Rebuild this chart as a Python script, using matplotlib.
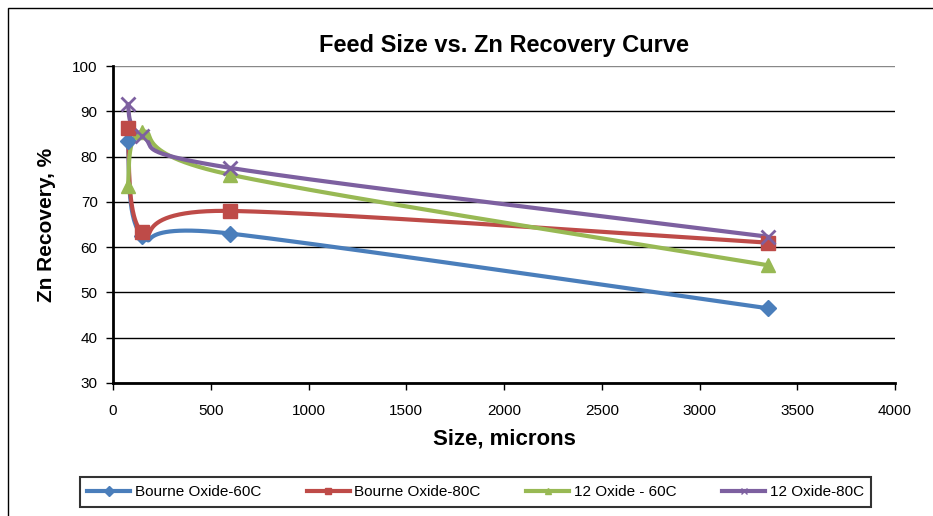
import numpy as np
import matplotlib
matplotlib.use('Agg')
import matplotlib.pyplot as plt
from matplotlib.patches import Rectangle

plt.rcParams['font.family'] = ['Liberation Sans', 'DejaVu Sans']

# feed sizes (microns)
sizes = [75, 150, 600, 3350]

bourne_60 = [83.5, 62.5, 63.0, 46.5]
bourne_80 = [86.3, 63.3, 68.0, 61.0]
oxide12_60 = [73.5, 85.5, 76.0, 56.0]
oxide12_80 = [91.5, 84.5, 77.5, 62.3]

labels = ['Bourne Oxide-60C', 'Bourne Oxide-80C', '12 Oxide - 60C', '12 Oxide-80C']
colors = ['#4a7ebb', '#be4b48', '#98b954', '#7d60a0']
markers = ['D', 's', '^', 'x']
msizes = [8, 10, 10, 10]

x_ticks = [0, 500, 1000, 1500, 2000, 2500, 3000, 3500, 4000]
y_ticks = [30, 40, 50, 60, 70, 80, 90, 100]

W, H = 933, 516
ax_l, ax_r, ax_t, ax_b = 113, 895, 66, 383


def smooth(xs, ys, n=60):
    """Excel-like smoothed line (bezier through points, computed in pixel space)"""
    sx = (ax_r - ax_l) / 4000.0
    sy = (ax_b - ax_t) / 70.0
    p = np.column_stack([np.array(xs) * sx, np.array(ys) * sy])
    pts = [p[0]] + list(p) + [p[-1]]
    out = []
    t = np.linspace(0, 1, n)[:, None]
    for i in range(1, len(pts) - 2):
        p0, p1, p2, p3 = pts[i - 1], pts[i], pts[i + 1], pts[i + 2]
        c1 = p1 + (p2 - p0) / 6.0
        c2 = p2 - (p3 - p1) / 6.0
        seg = ((1 - t) ** 3) * p1 + 3 * ((1 - t) ** 2) * t * c1 + 3 * (1 - t) * t ** 2 * c2 + t ** 3 * p2
        out.append(seg)
    out = np.vstack(out)
    return out[:, 0] / sx, out[:, 1] / sy


fig = plt.figure(figsize=(W / 100, H / 100), dpi=100)
ax = fig.add_axes([ax_l / W, 1 - ax_b / H, (ax_r - ax_l) / W, (ax_b - ax_t) / H])

fig.patches.append(Rectangle((8 / W, -0.1), 1.1, 1 - 8 / H + 0.1, transform=fig.transFigure,
                             fill=False, edgecolor='black', linewidth=1))

series = [bourne_60, bourne_80, oxide12_60, oxide12_80]
for ys, lab, c, m, ms in zip(series, labels, colors, markers, msizes):
    sx_, sy_ = smooth(sizes, ys)
    ax.plot(sx_, sy_, color=c, linewidth=3, solid_capstyle='round', zorder=3)
    ax.plot(sizes, ys, linestyle='none', marker=m, markersize=ms, color=c,
            markeredgewidth=2 if m == 'x' else 1, zorder=4)
    ax.plot([], [], color=c, linewidth=3, marker=m, markersize=5, label=lab)

ax.set_xlim(0, 4000)
ax.set_ylim(30, 100)
ax.set_xticks(x_ticks)
ax.set_yticks(y_ticks)
ax.tick_params(labelsize=11, direction='out', length=5, width=1, pad=6)
ax.tick_params(axis='x', pad=10)
ax.grid(axis='y', color='black', linewidth=1)
ax.get_ygridlines()[-1].set_color('#888888')
ax.set_axisbelow(True)
for s in ['top', 'right']:
    ax.spines[s].set_visible(False)
for s in ['left', 'bottom']:
    ax.spines[s].set_linewidth(2)

ax.set_title('Feed Size vs. Zn Recovery Curve', fontsize=17, fontweight='bold', pad=10)
ax.set_xlabel('Size, microns', fontsize=16, fontweight='bold', labelpad=8)
ax.set_ylabel('Zn Recovery, %', fontsize=15, fontweight='bold', labelpad=12)

leg = fig.legend(loc='center', bbox_to_anchor=((77 + 874) / 2 / W, 1 - 492 / H), ncol=4,
                 fontsize=11, frameon=True, fancybox=False, edgecolor='black',
                 handlelength=2.8, handletextpad=0.3, columnspacing=3.0, borderpad=0.5)
leg.get_frame().set_linewidth(1.5)

fig.savefig('out.png', dpi=100)
